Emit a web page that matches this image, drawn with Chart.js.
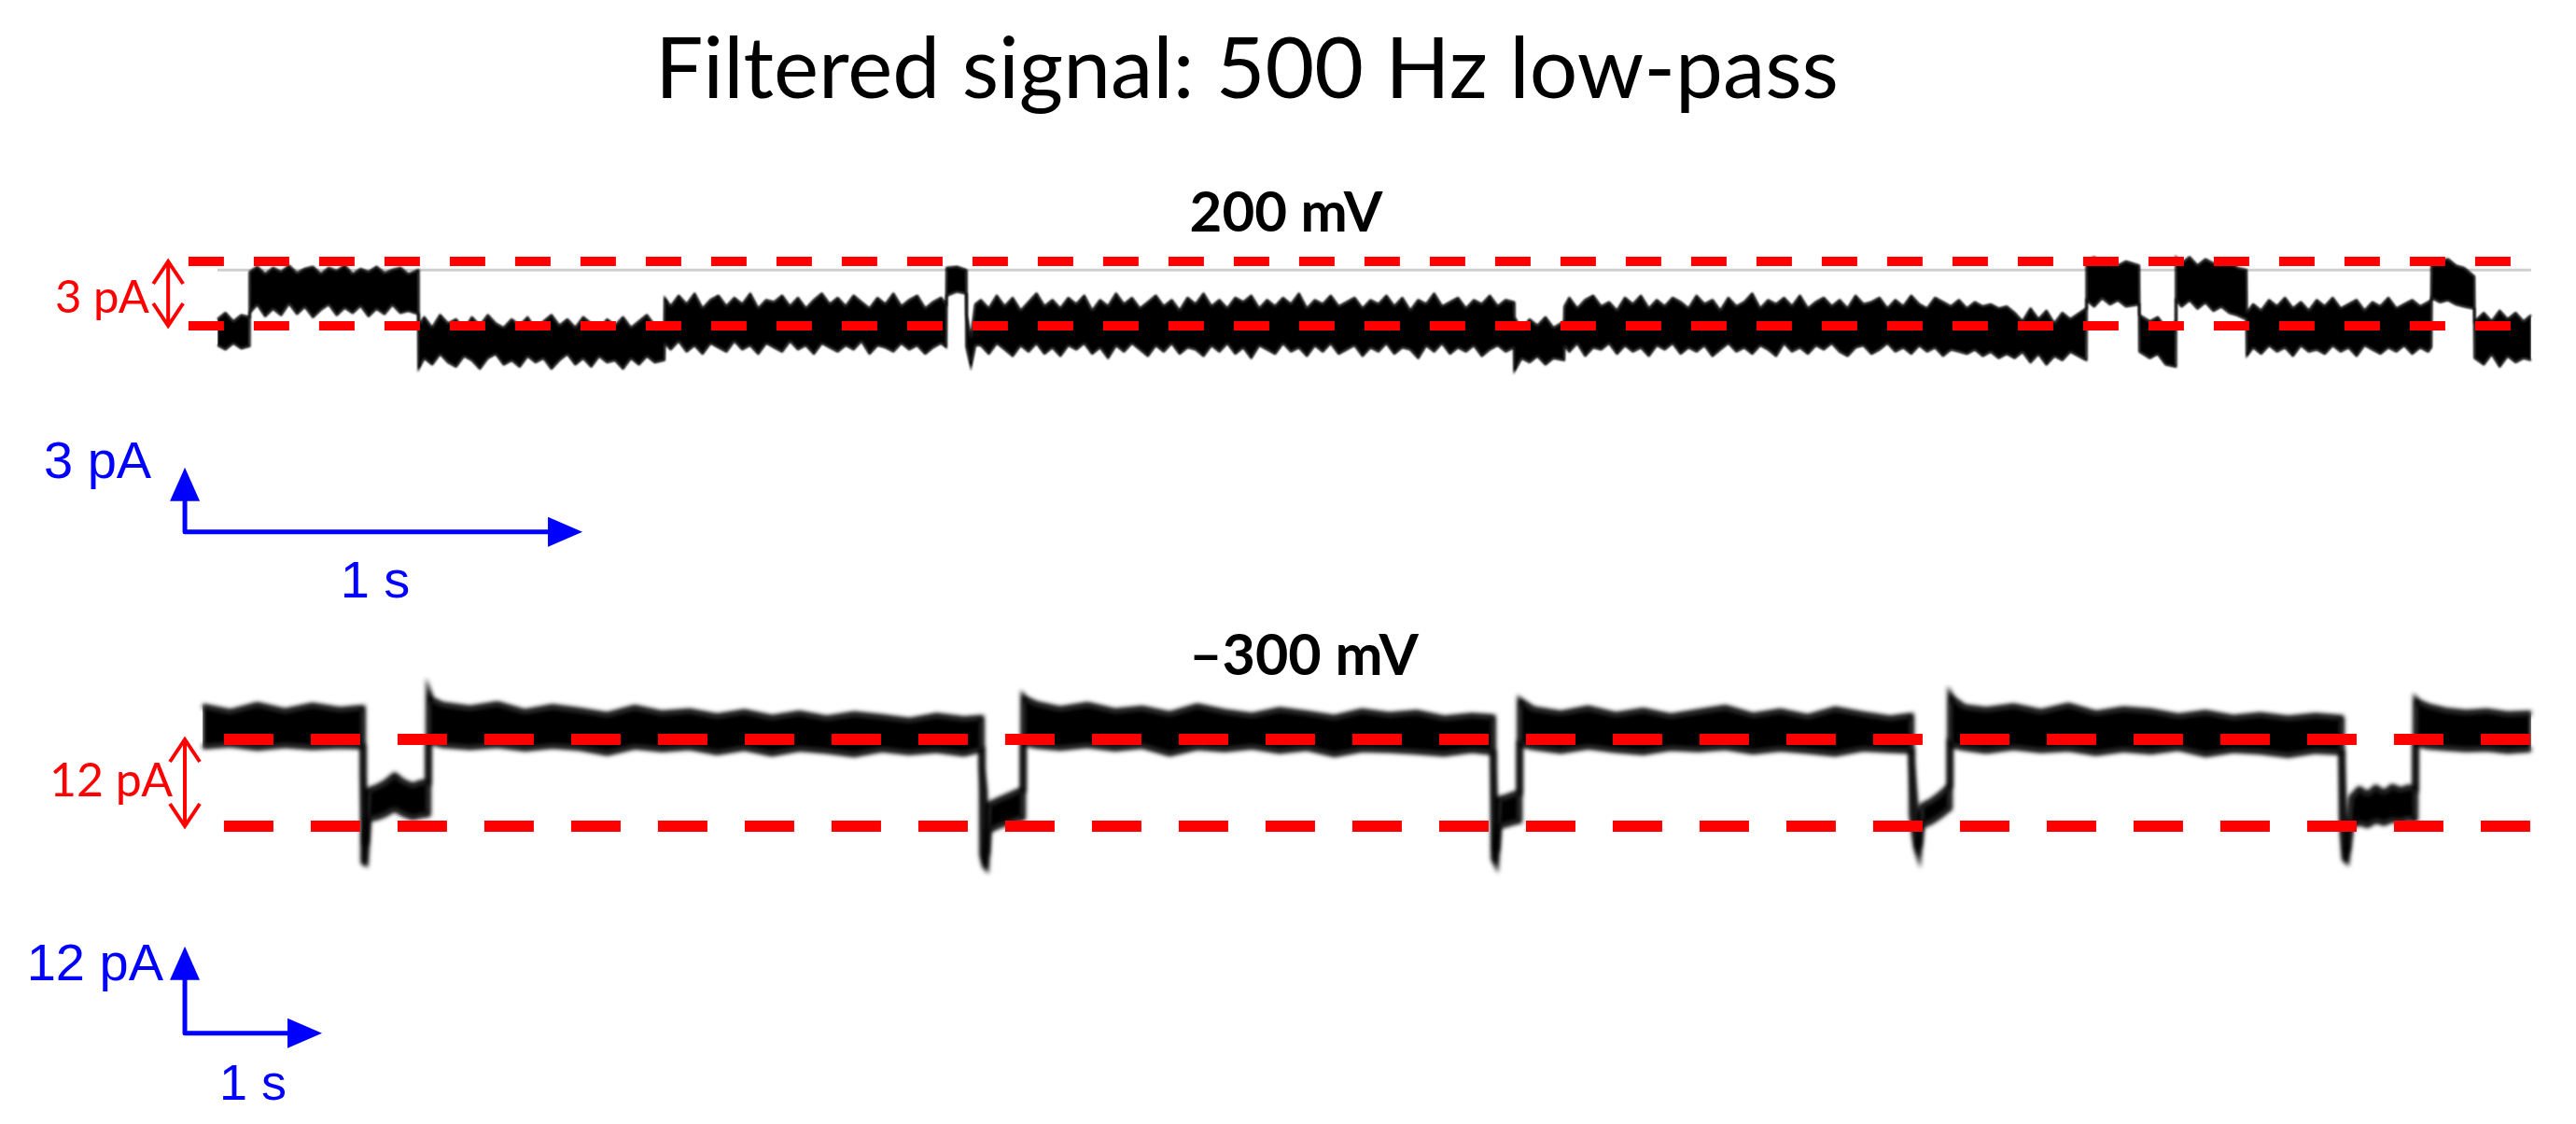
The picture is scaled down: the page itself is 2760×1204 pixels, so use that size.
<!DOCTYPE html>
<html>
<head>
<meta charset="utf-8">
<script src="https://cdn.jsdelivr.net/npm/chart.js@4.4.1/dist/chart.umd.min.js"></script>
<style>
  html, body { margin: 0; background: #fff; }
  canvas { display: block; }
</style>
</head>
<body>
<canvas id="fig" width="2760" height="1204"></canvas>
<script>
// ---- 200 mV trace: time (s), upper and lower edge of the noisy band (pA) ----
const t200 = [
  0, 0.02, 0.04, 0.06, 0.080,
  0.081, 0.10, 0.12, 0.14, 0.16, 0.18, 0.20, 0.22, 0.24, 0.26, 0.28, 0.30, 0.32, 0.34, 0.36, 0.38, 0.40, 0.42, 0.44, 0.46, 0.48, 0.505,
  0.506, 0.52, 0.54, 0.56, 0.58, 0.60, 0.62, 0.64, 0.66, 0.68, 0.70, 0.72, 0.74, 0.76, 0.78, 0.80, 0.82, 0.84, 0.86, 0.88, 0.90, 0.92, 0.94, 0.96, 0.98, 1.00, 1.02, 1.04, 1.06, 1.08, 1.10, 1.124,
  1.125, 1.14, 1.16, 1.18, 1.20, 1.22, 1.24, 1.26, 1.28, 1.30, 1.32, 1.34, 1.36, 1.38, 1.40, 1.42, 1.44, 1.46, 1.48, 1.50, 1.52, 1.54, 1.56, 1.58, 1.60, 1.62, 1.64, 1.66, 1.68, 1.70, 1.72, 1.74, 1.76, 1.78, 1.80, 1.82, 1.833,
  1.834, 1.86, 1.883, 1.884, 1.895, 1.906,
  1.92, 1.94, 1.96, 1.98, 2.00, 2.02, 2.04, 2.06, 2.08, 2.10, 2.12, 2.14, 2.16, 2.18, 2.20, 2.22, 2.24, 2.26, 2.28, 2.30, 2.32, 2.34, 2.36, 2.38, 2.40, 2.42, 2.44, 2.46, 2.48, 2.50, 2.52, 2.54, 2.56, 2.58, 2.60, 2.62, 2.64, 2.66, 2.68, 2.70, 2.72, 2.74, 2.76, 2.78, 2.80, 2.82, 2.84, 2.86, 2.88, 2.90, 2.92, 2.94, 2.96, 2.98, 3.00, 3.02, 3.04, 3.06, 3.08, 3.10, 3.12, 3.14, 3.16, 3.18, 3.20, 3.22, 3.24, 3.261,
  3.262, 3.28, 3.30, 3.32, 3.34, 3.36, 3.387,
  3.388, 3.40, 3.42, 3.44, 3.46, 3.48, 3.50, 3.52, 3.54, 3.56, 3.58, 3.60, 3.62, 3.64, 3.66, 3.68, 3.70, 3.72, 3.74, 3.76, 3.78, 3.80, 3.82, 3.84, 3.86, 3.88, 3.90, 3.92, 3.94, 3.96, 3.98, 4.00, 4.02, 4.04, 4.06, 4.08, 4.10, 4.12, 4.14, 4.16, 4.18, 4.20, 4.22, 4.24, 4.26, 4.28, 4.30, 4.32, 4.34, 4.36, 4.38, 4.40, 4.42, 4.44, 4.46, 4.48, 4.50,
  4.52, 4.54, 4.56, 4.58, 4.60, 4.62, 4.64, 4.66, 4.70,
  4.701, 4.72, 4.74, 4.76, 4.78, 4.80, 4.833,
  4.834, 4.86, 4.88, 4.90, 4.925,
  4.926, 4.94, 4.96, 4.98, 5.00, 5.02, 5.04, 5.06, 5.08, 5.103,
  5.104, 5.12, 5.14, 5.16, 5.18, 5.20, 5.22, 5.24, 5.26, 5.28, 5.30, 5.32, 5.34, 5.36, 5.38, 5.40, 5.42, 5.44, 5.46, 5.48, 5.50, 5.52, 5.54, 5.56, 5.568,
  5.569, 5.59, 5.61, 5.63, 5.65, 5.676,
  5.677, 5.70, 5.72, 5.74, 5.76, 5.78, 5.80, 5.819
]
const hi200 = [
  0.3, 0.6, 0.2, 0.5, 0.4,
  2.5, 2.75, 2.4, 2.7, 2.5, 2.8, 2.45, 2.65, 2.75, 2.4, 2.7, 2.55, 2.8, 2.4, 2.65, 2.5, 2.75, 2.45, 2.6, 2.7, 2.4, 2.6,
  0.0, 0.4, -0.1, 0.5, 0.1, 0.3, -0.2, 0.4, 0.0, 0.5, 0.1, -0.1, 0.3, 0.0, 0.4, -0.2, 0.2, 0.5, 0.0, 0.3, -0.1, 0.4, 0.1, -0.2, 0.3, 0.0, 0.4, -0.1, 0.2, 0.5, 0.0, 0.1,
  1.3, 0.9, 1.4, 1.0, 1.5, 0.8, 1.2, 1.4, 0.9, 1.3, 1.0, 1.5, 0.8, 1.2, 1.1, 1.4, 0.9, 1.3, 0.8, 1.2, 1.5, 1.0, 1.3, 0.9, 1.4, 1.1, 0.8, 1.3, 1.0, 1.5, 0.9, 1.2, 1.4, 0.8, 1.1, 1.3, 1.0,
  2.7, 2.75, 2.6, 0.5, -0.6, 1.0,
  1.2, 0.8, 1.4, 0.9, 1.3, 0.7, 1.1, 1.5, 0.9, 1.2, 0.8, 1.3, 1.0, 1.4, 0.7, 1.2, 0.9, 1.5, 1.0, 1.3, 0.8, 1.1, 1.4, 0.9, 1.2, 0.7, 1.3, 1.0, 1.5, 0.9, 1.2, 0.8, 1.3, 1.1, 1.4, 0.8, 1.2, 0.9, 1.3, 1.0, 1.5, 0.8, 1.2, 1.0, 1.4, 0.9, 1.1, 1.3, 0.8, 1.2, 1.0, 1.4, 0.9, 1.3, 0.7, 1.2, 1.0, 1.5, 0.9, 1.1, 1.3, 0.8, 1.2, 1.0, 1.4, 0.9, 1.2, 1.1,
  0.4, -0.2, 0.3, 0.0, 0.4, -0.1, 0.2,
  0.9, 1.3, 0.8, 1.2, 1.4, 0.9, 1.1, 0.7, 1.3, 1.0, 1.4, 0.8, 1.2, 0.9, 1.3, 1.1, 0.8, 1.4, 1.0, 1.2, 0.7, 1.3, 0.9, 1.1, 1.5, 0.8, 1.2, 1.0, 1.3, 0.9, 1.4, 0.8, 1.1, 1.3, 0.9, 1.2, 0.8, 1.4, 1.0, 1.1, 1.3, 0.8, 1.2, 0.9, 1.4, 1.0, 0.8, 1.3, 1.1, 0.9, 1.2, 0.8, 1.1, 0.9, 1.0, 0.8, 0.9,
  0.6, 0.2, 0.8, 0.3, 0.7, 0.1, 0.6, 0.3, 0.8,
  3.0, 3.2, 2.9, 3.1, 2.8, 3.0, 2.8,
  0.5, 0.2, 0.4, -0.1, 0.2,
  3.2, 2.9, 3.2, 2.8, 3.1, 2.9, 2.8, 3.0, 2.7, 2.6,
  0.6, 1.0, 0.7, 1.2, 0.9, 1.3, 0.8, 1.1, 0.7, 1.2, 0.9, 1.3, 0.8, 1.0, 1.2, 0.7, 1.1, 0.9, 1.3, 0.8, 1.0, 1.2, 0.9, 1.1, 1.2,
  3.1, 3.0, 3.1, 2.8, 2.7, 2.3,
  0.2, 0.6, 0.2, 0.7, 0.3, 0.6, 0.2, 0.5
]
const lo200 = [
  -0.9, -1.1, -0.8, -1.05, -0.95,
  0.6, 1.0, 0.45, 0.8, 0.5, 1.05, 0.55, 0.9, 0.4, 0.75, 1.0, 0.5, 0.85, 0.6, 0.95, 0.45, 0.8, 0.55, 1.0, 0.6, 0.7, 0.55,
  -2.0, -1.5, -1.8, -1.3, -1.7, -1.9, -1.4, -1.6, -2.0, -1.5, -1.3, -1.8, -1.6, -1.9, -1.4, -1.7, -1.5, -2.0, -1.6, -1.3, -1.8, -1.5, -1.9, -1.4, -1.7, -1.6, -2.0, -1.5, -1.8, -1.4, -1.7, -1.6,
  -0.8, -1.1, -0.7, -1.2, -0.9, -1.3, -0.8, -1.0, -1.2, -0.7, -1.1, -0.9, -1.3, -0.8, -1.0, -1.2, -0.7, -1.1, -0.9, -1.3, -0.8, -1.0, -1.2, -0.9, -1.1, -0.7, -1.3, -0.9, -1.0, -1.2, -0.8, -1.1, -0.9, -1.3, -1.0, -0.8, -1.0,
  1.4, 1.6, 1.5, -1.0, -1.9, -0.9,
  -0.9, -1.3, -0.8, -1.1, -1.4, -0.9, -1.2, -0.8, -1.3, -1.0, -1.4, -0.9, -1.1, -0.8, -1.3, -1.0, -1.5, -0.9, -1.2, -0.8, -1.1, -1.4, -0.9, -1.2, -0.8, -1.3, -1.0, -1.1, -1.4, -0.9, -1.2, -0.8, -1.3, -1.0, -1.5, -0.9, -1.1, -1.3, -0.8, -1.2, -1.0, -1.4, -0.9, -1.2, -0.8, -1.3, -1.1, -0.9, -1.4, -1.0, -1.2, -0.8, -1.3, -1.0, -1.1, -1.5, -0.9, -1.2, -0.8, -1.3, -1.0, -1.2, -0.9, -1.4, -1.1, -0.9, -1.2, -1.0,
  -2.1, -1.5, -1.7, -1.4, -1.8, -1.5, -1.6,
  -0.9, -1.2, -0.8, -1.4, -1.0, -1.1, -0.8, -1.3, -0.9, -1.2, -1.0, -1.4, -0.9, -1.1, -0.8, -1.3, -1.0, -1.2, -0.9, -1.4, -1.1, -0.8, -1.2, -1.0, -1.3, -0.9, -1.1, -1.4, -0.8, -1.2, -1.0, -1.3, -0.9, -1.1, -0.8, -1.2, -1.4, -1.0, -0.9, -1.3, -1.1, -0.8, -1.2, -1.0, -1.3, -0.9, -1.2, -1.0, -1.4, -1.1, -1.2, -1.3, -1.1, -1.4, -1.2, -1.5, -1.3,
  -1.5, -1.2, -1.7, -1.3, -1.8, -1.4, -1.6, -1.2, -1.6,
  1.2, 0.9, 1.3, 1.0, 1.2, 0.9, 1.0,
  -1.2, -1.5, -1.3, -1.8, -1.9,
  1.2, 0.9, 1.2, 0.8, 1.1, 0.7, 0.9, 0.6, 0.5, 0.3,
  -1.4, -1.0, -1.3, -0.9, -1.2, -1.0, -1.4, -0.9, -1.2, -1.1, -1.3, -0.9, -1.2, -1.0, -1.4, -0.9, -1.1, -1.3, -1.0, -1.2, -0.9, -1.3, -1.0, -1.2, -1.0,
  1.3, 1.1, 1.2, 1.0, 0.9, 0.8,
  -1.5, -1.8, -1.3, -1.9, -1.4, -1.7, -1.5, -1.6
]

// ---- -300 mV trace ----
const t300 = [
  0, 0.2, 0.4, 0.6, 0.8, 1.0, 1.17,
  1.171, 1.19, 1.21, 1.27, 1.33, 1.40, 1.46, 1.53, 1.60, 1.646,
  1.647, 1.67, 1.75, 1.95, 2.15, 2.35, 2.55, 2.75, 2.95, 3.15, 3.35, 3.55, 3.75, 3.95, 4.15, 4.35, 4.55, 4.75, 4.95, 5.15, 5.35, 5.55, 5.68,
  5.681, 5.70, 5.714, 5.73, 5.80, 5.87, 5.94, 5.98,
  5.981, 6.00, 6.08, 6.25, 6.45, 6.65, 6.85, 7.05, 7.25, 7.45, 7.65, 7.85, 8.05, 8.25, 8.45, 8.65, 8.85, 9.05, 9.25, 9.408,
  9.409, 9.43, 9.45, 9.50, 9.55, 9.599,
  9.600, 9.62, 9.70, 9.90, 10.10, 10.30, 10.50, 10.70, 10.90, 11.10, 11.30, 11.50, 11.70, 11.90, 12.10, 12.30, 12.456,
  12.457, 12.49, 12.51, 12.53, 12.60, 12.67, 12.735,
  12.736, 12.76, 12.84, 13.00, 13.20, 13.40, 13.60, 13.80, 14.00, 14.20, 14.40, 14.60, 14.80, 15.00, 15.20, 15.40, 15.592,
  15.593, 15.61, 15.63, 15.66, 15.72, 15.78, 15.84, 15.90, 15.96, 16.02, 16.08, 16.129,
  16.130, 16.15, 16.22, 16.35, 16.50, 16.65, 16.80, 16.973
]
const hi300 = [
  4.6, 3.8, 4.8, 3.9, 4.7, 4.1, 4.4,
  -5.0, -14.5, -7.0, -6.6, -6.0, -4.9, -5.8, -6.4, -5.9, -6.0,
  6.7, 5.5, 4.8, 4.3, 4.9, 3.8, 4.5, 4.0, 3.4, 4.4, 3.6, 3.9, 3.2, 3.8, 3.0, 3.6, 2.9, 3.5, 3.1, 2.6, 3.3, 2.8, 3.0,
  -4.0, -7.0, -16.0, -9.0, -8.4, -7.8, -7.2, -7.0,
  6.0, 5.6, 4.9, 4.2, 4.8, 3.9, 4.3, 3.5, 4.6, 3.8, 3.3, 4.1, 3.6, 3.0, 3.9, 3.4, 3.7, 2.9, 3.3, 3.1,
  -4.0, -15.5, -8.2, -8.0, -7.6, -7.4,
  5.5, 5.2, 4.2, 3.6, 4.3, 3.4, 4.0, 3.2, 3.8, 4.4, 3.3, 3.9, 3.1, 4.2, 3.5, 2.9, 3.3,
  -3.0, -10.0, -14.8, -9.2, -8.5, -7.5, -6.4,
  6.3, 5.6, 4.5, 4.1, 4.6, 3.8, 4.7, 3.6, 4.2, 3.9, 3.2, 3.7, 3.0, 3.4, 2.9, 3.3, 3.0,
  -3.0, -12.0, -15.5, -8.0, -6.8, -7.6, -6.6, -7.4, -6.5, -7.0, -6.6, -6.9,
  5.6, 5.2, 4.6, 4.0, 3.7, 3.9, 3.5, 3.6
]
const lo300 = [
  -1.0, -0.7, -1.2, -0.8, -1.1, -0.9, -1.0,
  -17.0, -17.2, -11.0, -10.8, -10.4, -9.6, -10.3, -10.8, -10.5, -10.4,
  -0.5, -0.4, -0.8, -1.1, -0.8, -1.3, -0.9, -1.2, -1.9, -1.0, -1.4, -1.1, -1.8, -1.2, -2.0, -1.3, -1.6, -2.1, -1.4, -1.8, -1.5, -2.0, -1.4,
  -16.0, -17.5, -17.8, -12.6, -12.0, -11.5, -11.0, -10.9,
  -0.5, -0.6, -0.9, -1.2, -0.8, -1.3, -0.9, -2.0, -1.1, -1.4, -1.0, -1.6, -1.2, -2.1, -1.4, -1.5, -1.7, -2.0, -1.5, -1.8,
  -16.5, -17.3, -12.0, -11.8, -11.5, -11.3,
  -0.6, -0.8, -1.1, -1.6, -1.0, -1.5, -1.8, -1.2, -1.4, -1.1, -1.7, -1.3, -1.6, -2.0, -1.3, -1.5, -1.6,
  -10.5, -15.0, -16.2, -12.0, -11.4, -10.5, -9.5,
  -0.5, -0.9, -1.2, -1.6, -1.1, -1.5, -1.3, -1.9, -1.4, -1.7, -1.2, -2.1, -1.5, -1.7, -2.2, -1.6, -1.8,
  -11.5, -16.5, -16.9, -12.0, -11.5, -11.9, -11.2, -11.6, -11.1, -11.3, -10.9, -11.1,
  -0.4, -0.7, -1.0, -1.2, -1.4, -1.3, -1.6, -1.4
]

// reference levels (pA) and the time span of their dashed lines (s)
const levels200 = [0, 3]
const levels300 = [0, -12]
const span200 = [-0.073, 5.82]
const span300 = [0.156, 17.03]
const frame200 = 2.6 // faint grey edge of the original recording window

// text
const mainTitle = 'Filtered signal: 500 Hz low-pass'
const panelTitles = ['200 mV', '\u2013300 mV']
const stepLabels = ['3 pA', '12 pA']
const barLabels200 = ['3 pA', '1 s']
const barLabels300 = ['12 pA', '1 s']

// ---- layout ----
const W = 2760, H = 1204
const RED = '#ff0000', BLUE = '#0000ff'

// min/max so that value v0 lands on pixel p0 and v1 on p1
function axisRange(p0, v0, p1, v1, size, flip) {
  if (flip) {
    const k = (p1 - p0) / (v0 - v1)
    const max = v0 + p0 / k
    return { min: max - size / k, max }
  }
  const k = (p1 - p0) / (v1 - v0)
  const min = v0 - p0 / k
  return { min, max: min + size / k }
}
const xr200 = axisRange(233, 0, 659, 1, W)
const yr200 = axisRange(349, 0, 280, 3, H, true)
const xr300 = axisRange(217, 0, 364, 1, W)
const yr300 = axisRange(792, 0, 885, -12, H, true)

// scale bars and step brackets, in each trace's own units
const bar200 = { t: -0.082, v: -9.6, dt: 1, dv: 3 }
const bar300 = { t: -0.129, v: -40.6, dt: 1, dv: 12 }
const bracket200 = -0.124
const bracket300 = -0.129

const pts = (ts, vs) => ts.map((t, i) => ({ x: t, y: vs[i] }))
const flat = (span, v) => [{ x: span[0], y: v }, { x: span[1], y: v }]

// the band is the area between the upper edge (filled to the next dataset) and the lower edge
function trace(ts, vs, ax, upper, width, blur) {
  return {
    data: pts(ts, vs), xAxisID: 'x' + ax, yAxisID: 'y' + ax,
    borderColor: '#000', borderWidth: width, backgroundColor: '#000',
    fill: upper ? '+1' : false, pointRadius: 0, tension: 0, order: 1,
    blurOn: upper ? 0 : blur, blurOff: upper
  }
}
function level(span, v, ax, dash, width) {
  return {
    data: flat(span, v), xAxisID: 'x' + ax, yAxisID: 'y' + ax,
    borderColor: RED, borderWidth: width, borderDash: dash, borderCapStyle: 'butt',
    fill: false, pointRadius: 0, order: 0
  }
}

function arrowHead(ctx, x, y, dx, dy, len, half) {
  ctx.beginPath()
  ctx.moveTo(x, y)
  ctx.lineTo(x - dx * len - dy * half, y - dy * len + dx * half)
  ctx.lineTo(x - dx * len + dy * half, y - dy * len - dx * half)
  ctx.closePath()
  ctx.fill()
}

function scaleBar(ctx, xs, ys, bar) {
  const x0 = xs.getPixelForValue(bar.t), y0 = ys.getPixelForValue(bar.v)
  const x1 = xs.getPixelForValue(bar.t + bar.dt), y1 = ys.getPixelForValue(bar.v + bar.dv)
  ctx.save()
  ctx.strokeStyle = BLUE
  ctx.fillStyle = BLUE
  ctx.lineWidth = 5
  ctx.lineJoin = 'round'
  ctx.beginPath()
  ctx.moveTo(x0, y1 + 30)
  ctx.lineTo(x0, y0)
  ctx.lineTo(x1 - 30, y0)
  ctx.stroke()
  arrowHead(ctx, x0, y1, 0, -1, 36, 16)
  arrowHead(ctx, x1, y0, 1, 0, 37, 16)
  ctx.restore()
}

function bracket(ctx, x, ya, yb) {
  ctx.save()
  ctx.strokeStyle = RED
  ctx.lineWidth = 4
  ctx.beginPath()
  ctx.moveTo(x, ya)
  ctx.lineTo(x, yb)
  ctx.moveTo(x - 16, ya + 24); ctx.lineTo(x, ya); ctx.lineTo(x + 16, ya + 24)
  ctx.moveTo(x - 16, yb - 24); ctx.lineTo(x, yb); ctx.lineTo(x + 16, yb - 24)
  ctx.stroke()
  ctx.restore()
}

const texts = [
  { s: mainTitle, x: 1336, y: 105, font: '91px Lato', color: '#000', align: 'center' },
  { s: panelTitles[0], x: 1378, y: 248, font: 'bold 60px Lato', color: '#000', align: 'center' },
  { s: panelTitles[1], x: 1397, y: 723, font: 'bold 61px Lato', color: '#000', align: 'center' },
  { s: stepLabels[0], x: 160, y: 335, font: '49px Lato', color: RED, align: 'right' },
  { s: stepLabels[1], x: 185, y: 853, font: '50px Lato', color: RED, align: 'right' },
  { s: barLabels200[0], x: 47, y: 512, font: '56px "Liberation Sans"', color: BLUE, align: 'left' },
  { s: barLabels200[1], x: 402, y: 640, font: '56px "Liberation Sans"', color: BLUE, align: 'center' },
  { s: barLabels300[0], x: 175, y: 1050, font: '56px "Liberation Sans"', color: BLUE, align: 'right' },
  { s: barLabels300[1], x: 271, y: 1178, font: '54px "Liberation Sans"', color: BLUE, align: 'center' }
]

const overlay = {
  id: 'overlay',
  // soften the traces a little, like the filtered recording: the blur is switched on
  // before the lower edge is drawn and off after the upper edge (and its fill)
  beforeDatasetDraw(chart, args) {
    const ds = chart.data.datasets[args.index]
    if (ds.blurOn) chart.ctx.filter = 'blur(' + ds.blurOn + 'px)'
  },
  afterDatasetDraw(chart, args) {
    const ds = chart.data.datasets[args.index]
    if (ds.blurOff) chart.ctx.filter = 'none'
  },
  afterDatasetsDraw(chart) {
    const { ctx, scales } = chart
    ctx.filter = 'none'
    bracket(ctx, scales.x200.getPixelForValue(bracket200),
      scales.y200.getPixelForValue(levels200[1]), scales.y200.getPixelForValue(levels200[0]))
    bracket(ctx, scales.x300.getPixelForValue(bracket300),
      scales.y300.getPixelForValue(levels300[0]), scales.y300.getPixelForValue(levels300[1]))
    scaleBar(ctx, scales.x200, scales.y200, bar200)
    scaleBar(ctx, scales.x300, scales.y300, bar300)
    ctx.save()
    ctx.textBaseline = 'alphabetic'
    texts.forEach(d => {
      ctx.font = d.font
      ctx.fillStyle = d.color
      ctx.textAlign = d.align
      ctx.fillText(d.s, d.x, d.y)
    })
    ctx.restore()
  }
}

const hidden = r => ({ type: 'linear', display: false, min: r.min, max: r.max })

new Chart(document.getElementById('fig'), {
  type: 'line',
  data: {
    datasets: [
      trace(t200, hi200, '200', true, 2, 0),
      trace(t200, lo200, '200', false, 2, 1),
      trace(t300, hi300, '300', true, 5, 0),
      trace(t300, lo300, '300', false, 5, 2.5),
      level(span200, levels200[1], '200', [38, 32], 10),
      level(span200, levels200[0], '200', [38, 32], 10),
      level(span300, levels300[0], '300', [53, 40], 12),
      level(span300, levels300[1], '300', [53, 40], 12),
      {
        data: flat([0, 5.819], frame200), xAxisID: 'x200', yAxisID: 'y200',
        borderColor: '#cfcfcf', borderWidth: 3, pointRadius: 0, fill: false, order: 2
      }
    ]
  },
  options: {
    responsive: false,
    devicePixelRatio: 1,
    animation: false,
    layout: { padding: 0 },
    plugins: { legend: { display: false }, tooltip: { enabled: false } },
    scales: {
      x200: hidden(xr200), y200: hidden(yr200),
      x300: hidden(xr300), y300: hidden(yr300)
    }
  },
  plugins: [overlay]
})
</script>
</body>
</html>
